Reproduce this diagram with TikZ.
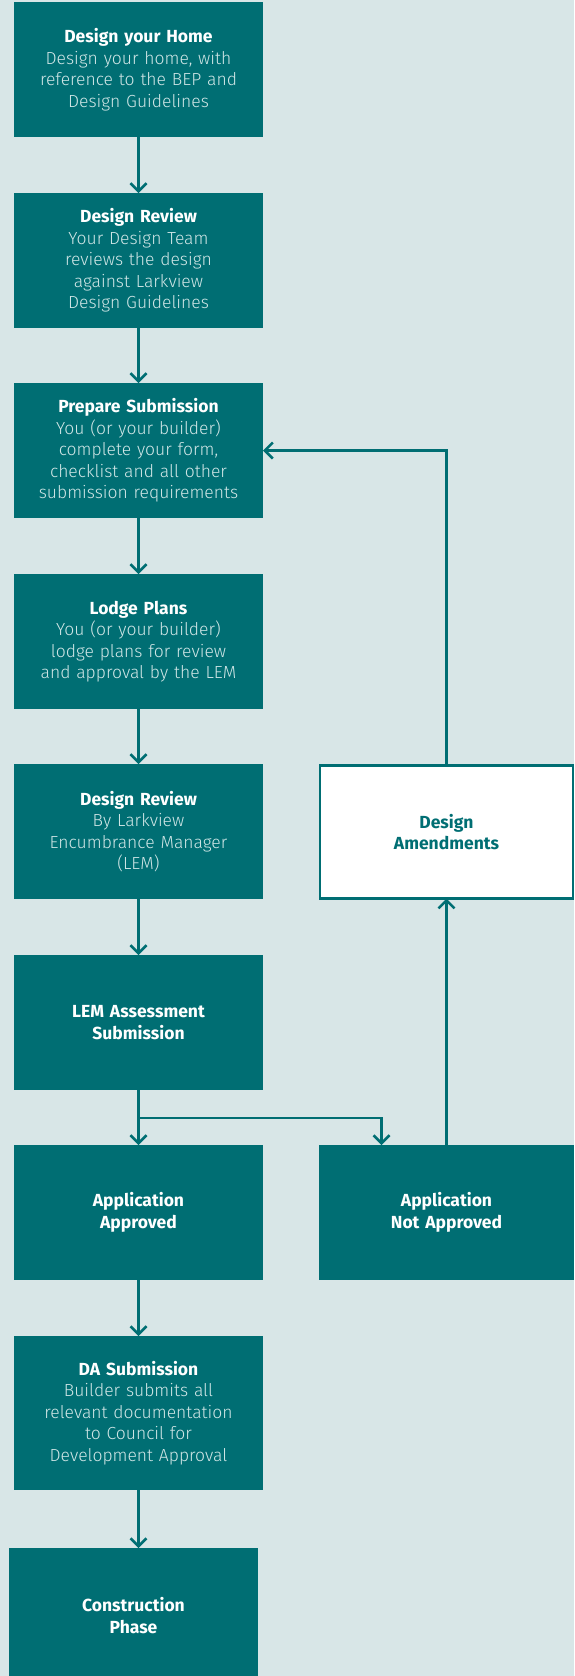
\documentclass[tikz,border=0pt]{standalone}
\usepackage{fontspec}
\setmainfont{Fira Sans}
\newfontfamily\lightfont{Fira Sans Light}
\usetikzlibrary{arrows.meta}
\definecolor{larkteal}{RGB}{0,110,115}
\definecolor{larkbg}{RGB}{216,230,231}
\definecolor{larkbody}{RGB}{208,230,230}
\newcommand{\ttl}[1]{{\bfseries #1}}
\newcommand{\bdy}[1]{{\lightfont\color{larkbody}#1}}

\begin{document}
\begin{tikzpicture}[x=1pt,y=-1pt,
	box/.style={rectangle, fill=larkteal, text=white, minimum width=249pt, minimum height=135pt,
		inner sep=0pt, outer sep=0pt, text width=245pt, align=center,
		font=\fontsize{17.5}{21.5}\selectfont},
	link/.style={draw=larkteal, line width=2.5pt,
		-{Straight Barb[length=8pt,width=16pt,line width=2.5pt]}}]
			\def \lft{ 138.5 };
			\def \rgt{ 446.5 };
			\fill[larkbg] (0,0) rectangle (574,1676);
			\useasboundingbox (0,0) rectangle (574,1676);
			% left column
			\node[box] (0) at (\lft,69.5) {\ttl{Design your Home}\\\bdy{Design your home, with}\\\bdy{reference to the BEP and}\\\bdy{Design Guidelines}};
			\node[box] (1) at (\lft,260.5) {\ttl{Design Review}\\\bdy{Your Design Team}\\\bdy{reviews the design}\\\bdy{against Larkview}\\\bdy{Design Guidelines}};
			\node[box] (2) at (\lft,450.5) {\ttl{Prepare Submission}\\\bdy{You (or your builder)}\\\bdy{complete your form,}\\\bdy{checklist and all other}\\\bdy{submission requirements}};
			\node[box] (3) at (\lft,641.5) {\ttl{Lodge Plans}\\\bdy{You (or your builder)}\\\bdy{lodge plans for review}\\\bdy{and approval by the LEM}};
			\node[box] (4) at (\lft,831.5) {\ttl{Design Review}\\\bdy{By Larkview}\\\bdy{Encumbrance Manager}\\\bdy{(LEM)}};
			\node[box] (5) at (\lft,1022.5) {\ttl{LEM Assessment}\\\ttl{Submission}};
			\node[box] (6) at (\lft,1212.5) {\ttl{Application}\\\ttl{Approved}};
			\node[box, minimum height=154pt] (7) at (\lft,1413) {\ttl{DA Submission}\\\bdy{Builder submits all}\\\bdy{relevant documentation}\\\bdy{to Council for}\\\bdy{Development Approval}};
			\node[box] (8) at (133.5,1615.5) {\ttl{Construction}\\\ttl{Phase}};
			% right column
			\node[box, minimum width=255pt] (9) at (\rgt,1212.5) {\ttl{Application}\\\ttl{Not Approved}};
			\node[box, fill=white, draw=larkteal, line width=2.5pt, text=larkteal, minimum width=253pt, minimum height=133pt] (10) at (\rgt,832) {\ttl{Design}\\\ttl{Amendments}};
			\coordinate (split) at (\lft,1118);
			\coordinate (9a) at (381.5,1145);
			\draw[link] (0.south) -- (1.north);
			\draw[link] (1.south) -- (2.north);
			\draw[link] (2.south) -- (3.north);
			\draw[link] (3.south) -- (4.north);
			\draw[link] (4.south) -- (5.north);
			\draw[link] (5) -- (6);
			\draw[link] (6) -- (7);
			\draw[link] (7.south) -- (7.south |- 8.north);
			\draw[link] (split) -| (9a);
			\draw[link] (9) -- (10);
			\draw[link] (10.north) |- (2.east);
		\end{tikzpicture}
\end{document}
